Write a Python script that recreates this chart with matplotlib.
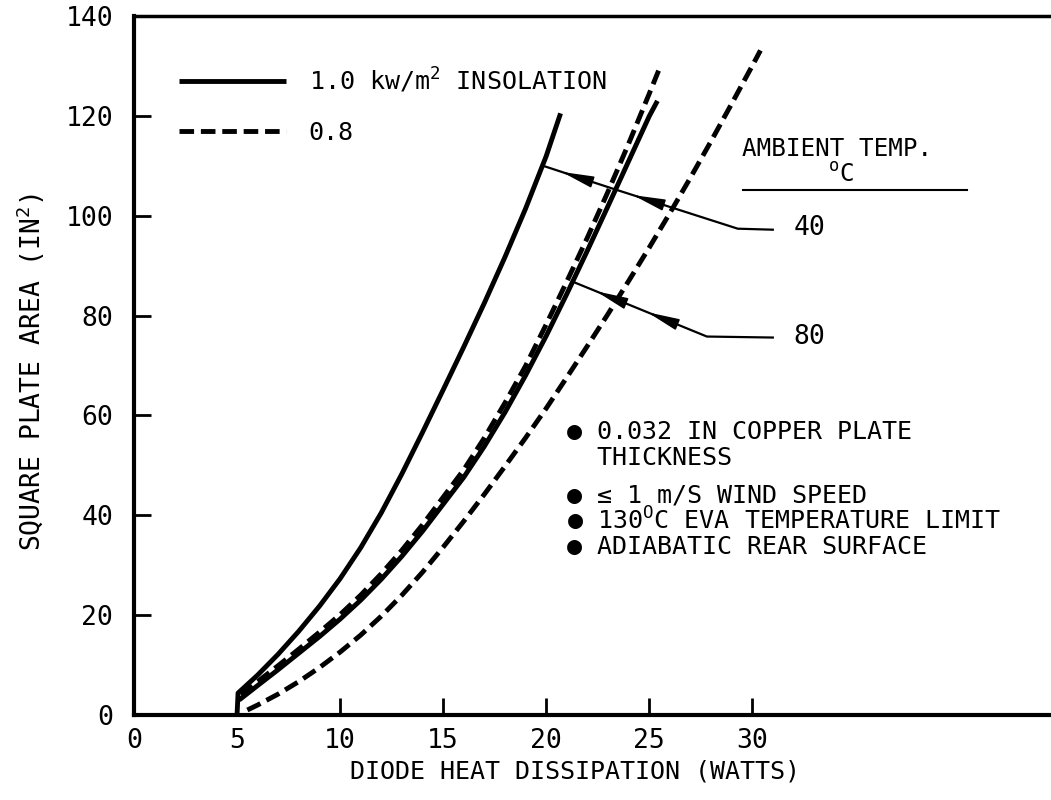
import matplotlib
matplotlib.use("Agg")
import matplotlib.pyplot as plt

plt.rcParams['font.family'] = ['DejaVu Sans Mono', 'DejaVu Sans']
plt.rcParams['mathtext.fontset'] = 'custom'
plt.rcParams['mathtext.rm'] = 'DejaVu Sans Mono'

# diode heat dissipation (W) vs square plate area (in^2)
# 1.0 kw/m^2 insolation, 40 C ambient
watts_10_40 = [5.0, 5.05, 6, 7, 8, 9, 10, 11, 12, 13, 14, 15, 16, 17, 18, 19, 20, 20.7]
area_10_40 = [0.0, 4.4, 8.0, 12.2, 16.8, 21.8, 27.3, 33.5, 40.5, 48.3, 56.6, 65.1,
              73.7, 82.5, 91.7, 101.4, 111.9, 120.5]
# 1.0 kw/m^2 insolation, 80 C ambient
watts_10_80 = [5.1, 6, 7, 8, 9, 10, 11, 12, 13, 14, 15, 16, 17, 18, 19, 20, 21, 22,
               23, 24, 25, 25.4]
area_10_80 = [3.0, 5.9, 9.1, 12.4, 15.7, 19.2, 23.0, 27.2, 31.8, 36.8, 42.2, 47.6,
              53.8, 60.6, 68.0, 75.9, 84.3, 93.0, 101.9, 110.9, 119.9, 123.0]
# 0.8 kw/m^2 insolation, 40 C ambient
watts_08_40 = [5.2, 6, 7, 8, 9, 10, 11, 12, 13, 14, 15, 16, 17, 18, 19, 20, 21, 22,
               23, 24, 25, 25.5]
area_08_40 = [4.0, 6.7, 9.9, 13.2, 16.6, 20.1, 24.0, 28.3, 33.0, 38.1, 43.6, 49.1,
              55.5, 62.5, 69.9, 78.2, 86.8, 95.6, 104.8, 114.4, 124.4, 129.5]
# 0.8 kw/m^2 insolation, 80 C ambient
watts_08_80 = [5.5, 6, 7, 8, 9, 10, 11, 12, 13, 14, 15, 16, 17, 18, 19, 20, 21, 22,
               23, 24, 25, 26, 27, 28, 29, 30, 30.4]
area_08_80 = [1.0, 2.0, 4.2, 6.7, 9.5, 12.6, 16.0, 19.8, 24.0, 28.6, 33.6, 38.8,
              44.2, 49.8, 55.5, 61.4, 67.6, 73.9, 80.3, 86.9, 93.6, 100.5, 107.6,
              114.9, 122.4, 130.0, 133.1]

# leader lines from the ambient temperature labels to the curves
lead40_x = [31.0, 29.3, 23.1, 19.85]
lead40_y = [97.2, 97.4, 105.6, 110.0]
lead80_x = [31.0, 27.8, 21.4]
lead80_y = [75.6, 75.8, 86.6]

x_ticks = [0, 5, 10, 15, 20, 25, 30]
y_ticks = [0, 20, 40, 60, 80, 100, 120, 140]

notes = [
    ("\u25CF 0.032 IN COPPER PLATE", 56.6),
    ("  THICKNESS", 51.4),
    ("\u25CF \u2264 1 m/S WIND SPEED", 44.0),
    ("\u25CF 130$^{\\mathrm{O}}$C EVA TEMPERATURE LIMIT", 39.0),
    ("\u25CF ADIABATIC REAR SURFACE", 33.6),
]

fig = plt.figure(figsize=(10.51, 8), dpi=100)
ax = fig.add_axes([0.1275, 0.10625, 0.8725, 0.87375])

lw = 3.5
dash = (3.0, 1.4)
ax.plot(watts_10_40, area_10_40, color='black', lw=lw, solid_capstyle='butt',
        solid_joinstyle='round', label='1.0 kw/m$^2$ INSOLATION')
ax.plot(watts_10_80, area_10_80, color='black', lw=lw, solid_capstyle='butt',
        solid_joinstyle='round')
ax.plot(watts_08_40, area_08_40, color='black', lw=lw, dashes=dash, label='0.8')
ax.plot(watts_08_80, area_08_80, color='black', lw=lw, dashes=dash)

ax.set_xlim(0, 44.5)
ax.set_ylim(0, 140)
ax.set_xticks(x_ticks)
ax.set_yticks(y_ticks)
ax.tick_params(direction='in', length=12, width=2, labelsize=19)
ax.tick_params(axis='x', pad=9)
ax.tick_params(axis='y', pad=15)

for side in ['left', 'bottom']:
    ax.spines[side].set_linewidth(3)
ax.spines['top'].set_linewidth(2.5)
ax.spines['right'].set_visible(False)

ax.set_xlabel('DIODE HEAT DISSIPATION (WATTS)', fontsize=18)
ax.set_ylabel('SQUARE PLATE AREA (IN$^2$)', fontsize=19)
ax.xaxis.set_label_coords(0.481, -0.064)
ax.yaxis.set_label_coords(-0.095, 0.49)

ax.legend(loc='upper left', bbox_to_anchor=(0.035, 0.947), frameon=False,
          fontsize=18, handlelength=4.3, handletextpad=0.9, labelspacing=1.05,
          borderpad=0)

# leaders with arrowheads
ax.plot(lead40_x, lead40_y, color='black', lw=1.6)
ax.plot(lead80_x, lead80_y, color='black', lw=1.6)


def head(x0, y0, x1, y1, frac):
    # arrowhead pointing from (x0, y0) toward (x1, y1), placed at frac of the way
    hx = x0 + (x1 - x0) * frac
    hy = y0 + (y1 - y0) * frac
    bx = x0 + (x1 - x0) * (frac - 0.05)
    by = y0 + (y1 - y0) * (frac - 0.05)
    ax.annotate('', xy=(hx, hy), xytext=(bx, by),
                arrowprops=dict(arrowstyle='-|>,head_length=1.4,head_width=0.25',
                                color='black', lw=1.2, shrinkA=0, shrinkB=0,
                                mutation_scale=14))


head(lead40_x[1], lead40_y[1], lead40_x[2], lead40_y[2], 0.82)
head(lead40_x[2], lead40_y[2], lead40_x[3], lead40_y[3], 0.72)
head(lead80_x[1], lead80_y[1], lead80_x[2], lead80_y[2], 0.45)
head(lead80_x[1], lead80_y[1], lead80_x[2], lead80_y[2], 0.84)

ax.text(32.0, 97.6, '40', fontsize=19, va='center', ha='left')
ax.text(32.0, 75.8, '80', fontsize=19, va='center', ha='left')

ax.text(29.5, 113.4, 'AMBIENT TEMP.', fontsize=17.5, va='center', ha='left')
ax.text(33.7, 110.6, '$^{\\mathrm{o}}$C', fontsize=17.5, va='top', ha='left')
ax.plot([29.56, 40.44], [105.2, 105.2], color='black', lw=1.5)

for text, y in notes:
    ax.text(21.0, y, text, fontsize=18, va='center', ha='left')

fig.savefig('out.png', dpi=100)
